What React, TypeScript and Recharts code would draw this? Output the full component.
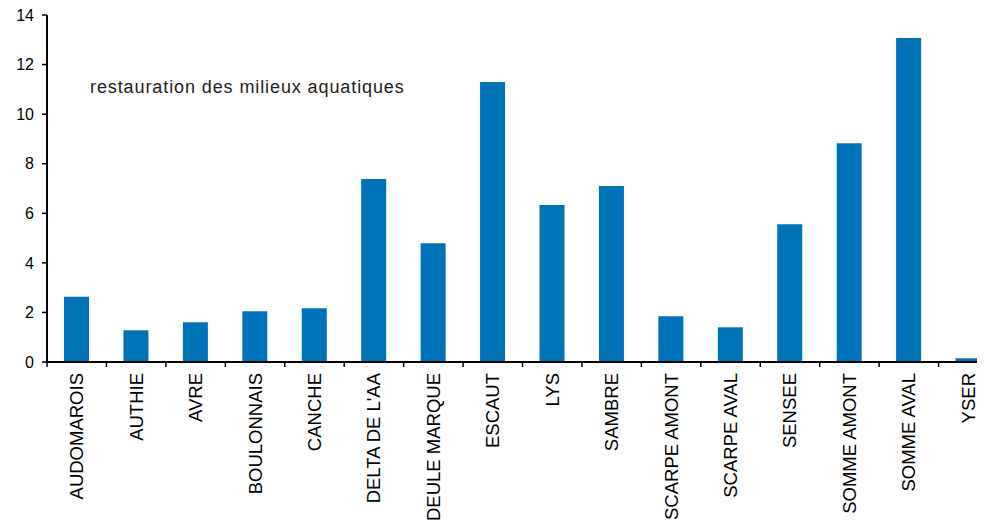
import { BarChart, Bar, XAxis, YAxis } from 'recharts';

const bassins = [
  "AUDOMAROIS", "AUTHIE", "AVRE", "BOULONNAIS", "CANCHE", "DELTA DE L'AA",
  "DEULE MARQUE", "ESCAUT", "LYS", "SAMBRE", "SCARPE AMONT", "SCARPE AVAL",
  "SENSEE", "SOMME AMONT", "SOMME AVAL", "YSER",
];
const restauration = [
  2.63, 1.28, 1.6, 2.05, 2.17, 7.38,
  4.79, 11.3, 6.33, 7.1, 1.85, 1.4,
  5.56, 8.83, 13.07, 0.15,
];
const yTicks = [0, 2, 4, 6, 8, 10, 12, 14];
const seriesLabel = "restauration des milieux aquatiques";

const CHART_W = 990;
const CHART_H = 518;
const Y_AXIS_W = 39;
const BAND = (CHART_W - Y_AXIS_W) / bassins.length;
const FONT = '"Liberation Sans", Arial, sans-serif';

const data = bassins.map((name, i) => ({ name, value: restauration[i] }));

// category label rotated upward, plus the small tick at the left edge of each band
function BassinTick(props: any) {
  const { x, y, payload, index } = props;
  const axisY = y - 11;
  const left = x - BAND / 2;
  return (
    <g>
      <line x1={left} y1={axisY} x2={left} y2={axisY + 5} stroke="#000" strokeWidth={1.5} />
      {index === bassins.length - 1 && (
        <line x1={left + BAND} y1={axisY} x2={left + BAND} y2={axisY + 5} stroke="#000" strokeWidth={1.5} />
      )}
      <text
        x={x}
        y={y}
        transform={`rotate(-90, ${x}, ${y})`}
        textAnchor="end"
        dominantBaseline="central"
        fontFamily={FONT}
        fontSize={18.5}
        fill="#000"
      >
        {payload.value}
      </text>
    </g>
  );
}

export default function App() {
  return (
    <div style={{ position: 'relative', width: 977, height: CHART_H, overflow: 'hidden' }}>
      <BarChart
        width={CHART_W}
        height={CHART_H}
        data={data}
        margin={{ top: 7, right: 0, bottom: 0, left: 0 }}
      >
        <XAxis
          dataKey="name"
          interval={0}
          height={164}
          tickSize={5}
          tickMargin={6}
          tickLine={false}
          axisLine={{ stroke: '#000', strokeWidth: 2 }}
          tick={<BassinTick />}
        />
        <YAxis
          width={Y_AXIS_W}
          domain={[0, 14]}
          ticks={yTicks}
          interval={0}
          tickSize={5}
          tickMargin={8}
          axisLine={{ stroke: '#000', strokeWidth: 2 }}
          tickLine={{ stroke: '#000', strokeWidth: 1.5 }}
          tick={{ fill: '#000', fontSize: 16, fontFamily: FONT }}
        />
        <Bar dataKey="value" fill="#0072B8" barSize={25} isAnimationActive={false} />
      </BarChart>
      <div
        style={{
          position: 'absolute',
          left: 82,
          top: 70,
          fontFamily: FONT,
          fontSize: 18,
          lineHeight: 1,
          letterSpacing: 0.9,
          color: '#222',
          whiteSpace: 'nowrap',
        }}
      >
        {seriesLabel}
      </div>
    </div>
  );
}
